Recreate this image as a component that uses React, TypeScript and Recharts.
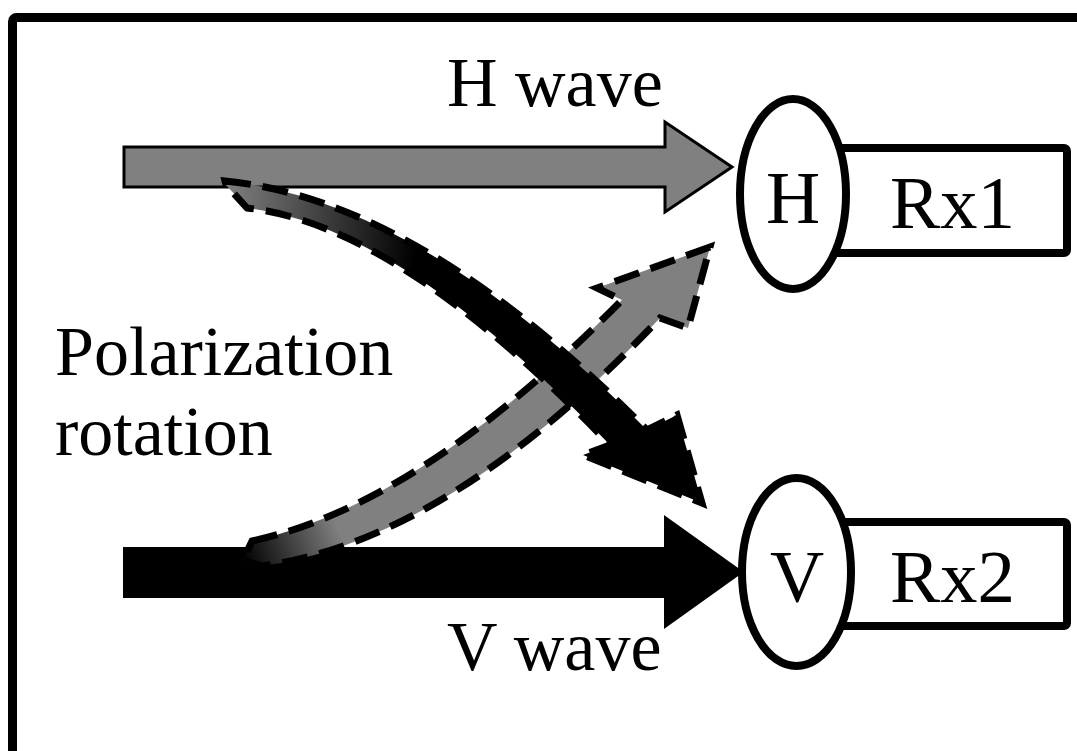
import React from 'react';
import { ComposedChart, Scatter, XAxis, YAxis } from 'recharts';

const CHART_W = 1077;
const CHART_H = 751;

// ---- diagram geometry, in the reference picture's own units ----
const framePts = [{ x: 12.5, y: 17.5 }, { x: 1110, y: 800 }];

const hWaveArrow = [
  { x: 124, y: 147 }, { x: 665, y: 147 }, { x: 665, y: 122 }, { x: 732, y: 167 },
  { x: 665, y: 212 }, { x: 665, y: 187 }, { x: 124, y: 187 },
];
const vWaveArrow = [
  { x: 124, y: 548 }, { x: 665, y: 548 }, { x: 665, y: 517 }, { x: 742, y: 572 },
  { x: 665, y: 627 }, { x: 665, y: 597 }, { x: 124, y: 597 },
];

// upper edge (start, control, end), head (3), lower edge (end, control, start), tail
const grayCurve = [
  { x: 252, y: 541 }, { x: 420, y: 505 }, { x: 622, y: 300 },
  { x: 597, y: 288 }, { x: 710, y: 247 }, { x: 688, y: 328 },
  { x: 660, y: 318 }, { x: 450, y: 540 }, { x: 262, y: 566 },
  { x: 243, y: 560 },
];
const blackCurve = [
  { x: 225, y: 181 }, { x: 420, y: 200 }, { x: 647, y: 430 },
  { x: 677, y: 415 }, { x: 702, y: 503 }, { x: 583, y: 455 },
  { x: 610, y: 445 }, { x: 400, y: 225 }, { x: 247, y: 208 },
  { x: 226, y: 185 },
];

const rx1Box = [{ x: 800, y: 148 }, { x: 1067, y: 253 }];
const rx2Box = [{ x: 800, y: 522 }, { x: 1067, y: 626 }];
const hEllipse = [{ x: 740, y: 99 }, { x: 846, y: 289 }];
const vEllipse = [{ x: 742, y: 478 }, { x: 851, y: 666 }];

const captions = [
  { x: 447, y: 106, label: 'H wave' },
  { x: 55, y: 375, label: 'Polarization' },
  { x: 55, y: 455, label: 'rotation' },
  { x: 447, y: 670, label: 'V wave' },
];
const nodeLetters = [
  { x: 793, y: 223, label: 'H' },
  { x: 797, y: 602, label: 'V' },
];
const rxLabels = [
  { x: 890, y: 228, label: 'Rx1' },
  { x: 890, y: 602, label: 'Rx2' },
];

// ---- styles ----
const FONT = "'Liberation Serif', 'Times New Roman', serif";
const GRAY = '#808080';

type P = { x: number; y: number };

const Hidden = () => <g />;

const polygonLine = (fill: string, sw: number) => (props: any) => {
  const pts: P[] = props.points || [];
  const d = pts.map((p, i) => `${i ? 'L' : 'M'}${p.x},${p.y}`).join(' ') + ' Z';
  return <path d={d} fill={fill} stroke="#000" strokeWidth={sw} strokeLinejoin="miter" />;
};

const curvedLine = (id: string, from: string, to: string, frac: number) => (props: any) => {
  const p: P[] = props.points || [];
  if (p.length < 10) return <g />;
  const d =
    `M${p[0].x},${p[0].y} Q${p[1].x},${p[1].y} ${p[2].x},${p[2].y} ` +
    `L${p[3].x},${p[3].y} L${p[4].x},${p[4].y} L${p[5].x},${p[5].y} L${p[6].x},${p[6].y} ` +
    `Q${p[7].x},${p[7].y} ${p[8].x},${p[8].y} L${p[9].x},${p[9].y} Z`;
  const gx = p[0].x + frac * (p[1].x - p[0].x);
  const gy = p[0].y + frac * (p[1].y - p[0].y);
  return (
    <g>
      <defs>
        <linearGradient id={id} gradientUnits="userSpaceOnUse" x1={p[9].x} y1={p[9].y} x2={gx} y2={gy}>
          <stop offset="0" stopColor={from} />
          <stop offset="1" stopColor={to} />
        </linearGradient>
      </defs>
      <path
        d={d}
        fill={`url(#${id})`}
        stroke="#000"
        strokeWidth={7}
        strokeDasharray="26 12"
        strokeLinejoin="miter"
      />
    </g>
  );
};

const rectLine = (fill: string, sw: number, r: number) => (props: any) => {
  const p: P[] = props.points || [];
  if (p.length < 2) return <g />;
  const x = Math.min(p[0].x, p[1].x);
  const y = Math.min(p[0].y, p[1].y);
  return (
    <rect
      x={x}
      y={y}
      width={Math.abs(p[1].x - p[0].x)}
      height={Math.abs(p[1].y - p[0].y)}
      rx={r}
      fill={fill}
      stroke="#000"
      strokeWidth={sw}
    />
  );
};

const ellipseLine = (props: any) => {
  const p: P[] = props.points || [];
  if (p.length < 2) return <g />;
  return (
    <ellipse
      cx={(p[0].x + p[1].x) / 2}
      cy={(p[0].y + p[1].y) / 2}
      rx={Math.abs(p[1].x - p[0].x) / 2}
      ry={Math.abs(p[1].y - p[0].y) / 2}
      fill="#fff"
      stroke="#000"
      strokeWidth={8}
    />
  );
};

const textShape = (size: number, anchor: 'start' | 'middle') => (props: any) => (
  <text
    x={props.cx}
    y={props.cy}
    fontFamily={FONT}
    fontSize={size}
    textAnchor={anchor}
    fill="#000"
  >
    {props.payload.label}
  </text>
);

export default function App() {
  return (
    <div style={{ position: 'absolute', left: 0, top: 0, width: CHART_W, height: CHART_H, background: '#fff' }}>
      <ComposedChart width={CHART_W} height={CHART_H} margin={{ top: 0, right: 0, bottom: 0, left: 0 }}>
        <XAxis type="number" dataKey="x" domain={[0, CHART_W]} allowDataOverflow hide />
        <YAxis type="number" dataKey="y" domain={[0, CHART_H]} reversed allowDataOverflow hide />

        <Scatter data={framePts} isAnimationActive={false} shape={Hidden} line={rectLine('none', 9, 4)} />
        <Scatter data={hWaveArrow} isAnimationActive={false} shape={Hidden} line={polygonLine(GRAY, 3)} />
        <Scatter data={vWaveArrow} isAnimationActive={false} shape={Hidden} line={polygonLine('#000', 2)} />
        <Scatter data={grayCurve} isAnimationActive={false} shape={Hidden} line={curvedLine('gradGray', '#000', GRAY, 0.5)} />
        <Scatter data={blackCurve} isAnimationActive={false} shape={Hidden} line={curvedLine('gradBlack', GRAY, '#000', 1)} />
        <Scatter data={rx1Box} isAnimationActive={false} shape={Hidden} line={rectLine('#fff', 8, 3)} />
        <Scatter data={rx2Box} isAnimationActive={false} shape={Hidden} line={rectLine('#fff', 8, 3)} />
        <Scatter data={hEllipse} isAnimationActive={false} shape={Hidden} line={ellipseLine} />
        <Scatter data={vEllipse} isAnimationActive={false} shape={Hidden} line={ellipseLine} />

        <Scatter data={captions} isAnimationActive={false} shape={textShape(70, 'start')} />
        <Scatter data={nodeLetters} isAnimationActive={false} shape={textShape(75, 'middle')} />
        <Scatter data={rxLabels} isAnimationActive={false} shape={textShape(75, 'start')} />
      </ComposedChart>
    </div>
  );
}
